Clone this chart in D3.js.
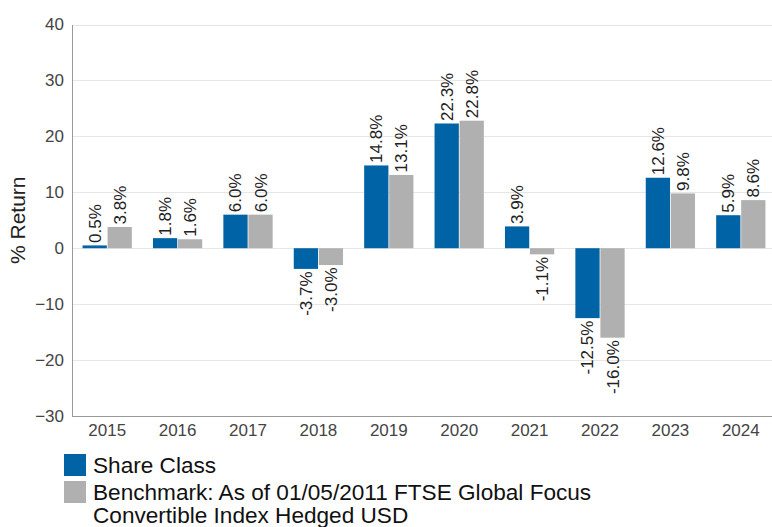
<!DOCTYPE html>
<html><head><meta charset="utf-8">
<script src="https://cdn.jsdelivr.net/npm/d3@7"></script>
<style>body{margin:0;background:#fff}svg{display:block;font-family:Arial,"Liberation Sans",sans-serif}</style>
</head><body><svg id="c" width="772" height="527"></svg>
<script>
const years = ["2015","2016","2017","2018","2019","2020","2021","2022","2023","2024"];
const shareClass = [0.5,1.8,6.0,-3.7,14.8,22.3,3.9,-12.5,12.6,5.9];
const benchmark = [3.8,1.6,6.0,-3.0,13.1,22.8,-1.1,-16.0,9.8,8.6];
const yTicks = [-30,-20,-10,0,10,20,30,40];
const seriesNames = ["Share Class","Benchmark: As of 01/05/2011 FTSE Global Focus","Convertible Index Hedged USD"];
const colors = ["#0063a6","#b0b0b0"];

const svg = d3.select("#c");
const L = 72, R = 776, T = 24.5, B = 416;
const x = d3.scaleBand().domain(years).range([L, R]).paddingInner(0.3).paddingOuter(0.15);
const y = d3.scaleLinear().domain([-30, 40]).range([B, T]);

svg.append("g").selectAll("line").data(yTicks.filter(d=>d!==-30)).join("line")
  .attr("x1", L).attr("x2", R).attr("y1", d=>Math.round(y(d))+0.5).attr("y2", d=>Math.round(y(d))+0.5)
  .attr("stroke", "#e6e6e6").attr("stroke-width", 1);

const yAxis = svg.append("g").attr("transform", `translate(${L},0)`)
  .call(d3.axisLeft(y).tickValues(yTicks).tickSize(0).tickPadding(8));
yAxis.select(".domain").attr("stroke", "#999");
yAxis.selectAll("text").attr("font-size", 17).attr("fill", "#444").attr("font-family","Arial,'Liberation Sans',sans-serif");

const xAxis = svg.append("g").attr("transform", `translate(0,${B})`)
  .call(d3.axisBottom(x).tickSize(0).tickPadding(8));
xAxis.select(".domain").attr("stroke", "#999").attr("d", `M${L},0.5H${R}`);
xAxis.selectAll("text").attr("font-size", 17).attr("fill", "#444").attr("font-family","Arial,'Liberation Sans',sans-serif");

svg.append("text").attr("transform", `translate(25,${(T+B)/2}) rotate(-90)`)
  .attr("text-anchor","middle").attr("font-size", 21).attr("fill","#222").text("% Return");

const sub = d3.scaleBand().domain([0,1]).range([0, x.bandwidth()]).paddingInner(0.03);
const data = years.map((yr,i)=>({yr, vals:[shareClass[i], benchmark[i]]}));

const g = svg.append("g");
data.forEach(d=>{
  d.vals.forEach((v,k)=>{
    const bx = x(d.yr) + sub(k);
    g.append("rect").attr("x", bx).attr("width", sub.bandwidth())
      .attr("y", y(Math.max(0,v))).attr("height", Math.abs(y(v)-y(0)))
      .attr("fill", colors[k]);
    const cx = bx + sub.bandwidth()/2 + 6;
    const ly = v >= 0 ? y(v) - 2.5 : y(v) + 2.5;
    g.append("text").attr("transform", `translate(${cx},${ly}) rotate(-90)`)
      .attr("text-anchor", v >= 0 ? "start" : "end")
      .attr("font-size", 17).attr("fill", "#222").text(v.toFixed(1) + "%");
  });
});

const lg = svg.append("g");
lg.append("rect").attr("x",64).attr("y",454).attr("width",22).attr("height",22).attr("fill",colors[0]);
lg.append("rect").attr("x",64).attr("y",481).attr("width",22).attr("height",22).attr("fill",colors[1]);
lg.append("text").attr("x",93).attr("y",473).attr("font-size",22.6).attr("fill","#111").text(seriesNames[0]);
lg.append("text").attr("x",93).attr("y",500).attr("font-size",22.6).attr("fill","#111").text(seriesNames[1]);
lg.append("text").attr("x",93).attr("y",523).attr("font-size",22.6).attr("fill","#111").text(seriesNames[2]);
</script></body></html>
